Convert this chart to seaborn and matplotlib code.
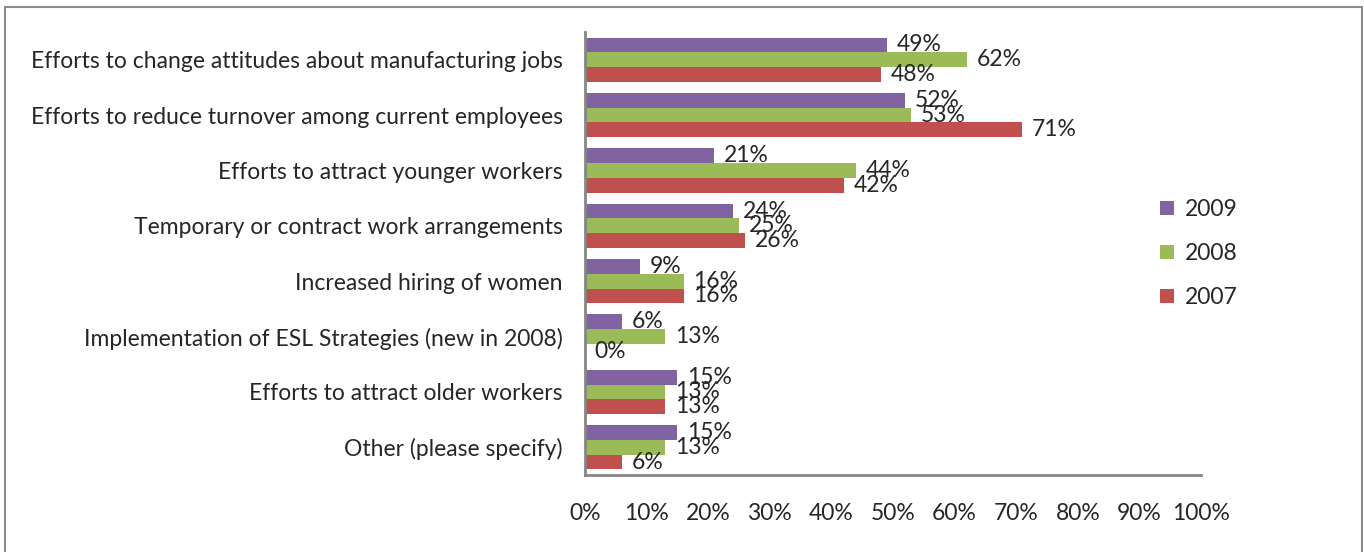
import pandas as pd
import seaborn as sns
import matplotlib.pyplot as plt
from matplotlib.patches import Rectangle

categories = [
    "Efforts to change attitudes about manufacturing jobs",
    "Efforts to reduce turnover among current employees",
    "Efforts to attract younger workers",
    "Temporary or contract work arrangements",
    "Increased hiring of women",
    "Implementation of ESL Strategies (new in 2008)",
    "Efforts to attract older workers",
    "Other (please specify)",
]
years = ["2009", "2008", "2007"]
vals_2009 = [49, 52, 21, 24, 9, 6, 15, 15]
vals_2008 = [62, 53, 44, 25, 16, 13, 13, 13]
vals_2007 = [48, 71, 42, 26, 16, 0, 13, 6]
colors = ["#8064A2", "#9BBB59", "#C0504D"]

df = pd.DataFrame({
    "category": categories * 3,
    "year": ["2009"] * 8 + ["2008"] * 8 + ["2007"] * 8,
    "value": vals_2009 + vals_2008 + vals_2007,
})

sns.set_style("white")
plt.rcParams["font.family"] = ["Lato", "DejaVu Sans"]
fs = 16.5

fig = plt.figure(figsize=(13.64, 5.52), dpi=100)
ax = fig.add_axes([585 / 1364, 1 - 475 / 552, (1201 - 585) / 1364, (475 - 32) / 552])

sns.barplot(data=df, x="value", y="category", hue="year", hue_order=years,
            palette=colors, order=categories, width=0.8, ax=ax,
            saturation=1, edgecolor="none")

for cont in ax.containers:
    ax.bar_label(cont, labels=[f"{v:.0f}%" for v in cont.datavalues],
                 padding=7, fontsize=fs)

ax.set_xlim(0, 100)
ax.set_ylim(7.5, -0.5)
ax.set_xticks(range(0, 101, 10))
ax.set_xticklabels([f"{t}%" for t in range(0, 101, 10)])
ax.tick_params(axis="x", length=0, pad=20, labelsize=fs)
ax.tick_params(axis="y", length=0, pad=16, labelsize=fs)
ax.set_xlabel("")
ax.set_ylabel("")

for s in ["top", "right"]:
    ax.spines[s].set_visible(False)
for s in ["left", "bottom"]:
    ax.spines[s].set_color("#868686")
    ax.spines[s].set_linewidth(2)

leg = ax.legend(loc="center left", bbox_to_anchor=(0.9, 0.5), frameon=False,
                fontsize=fs, handlelength=0.6, handleheight=0.6,
                handletextpad=0.5, labelspacing=1.0)

fig.patches.append(Rectangle((5 / 1364, -0.01), (1362 - 5) / 1364, 1.01 - 7 / 552,
                             transform=fig.transFigure, fill=False,
                             edgecolor="#8c8c8c", linewidth=1.5))

fig.savefig("out.png", dpi=100)
